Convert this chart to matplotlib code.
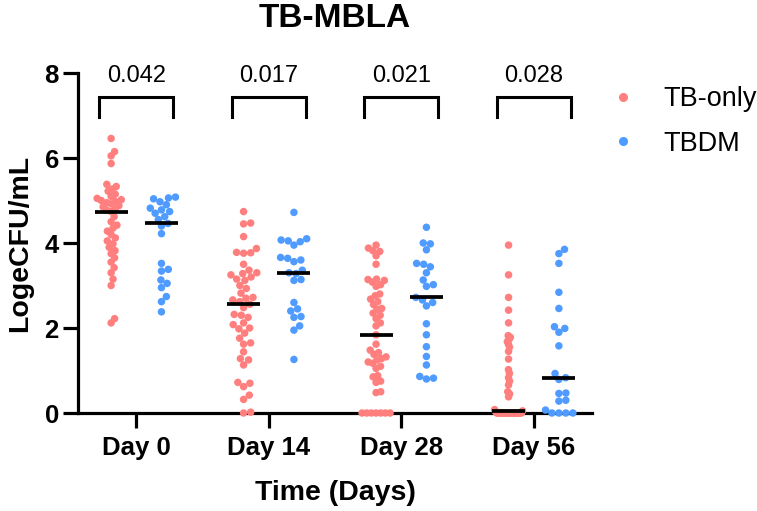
import numpy as np
import matplotlib
matplotlib.use("Agg")
import matplotlib.pyplot as plt
from matplotlib.lines import Line2D

plt.rcParams['font.family'] = ['Liberation Sans', 'DejaVu Sans']

days = ['Day 0', 'Day 14', 'Day 28', 'Day 56']
groups = ['TB-only', 'TBDM']
colors = ['#FF7F7F', '#4F9BFF']
p_values = ['0.042', '0.017', '0.021', '0.028']

# LogeCFU/mL
tb_day0 = [6.46, 6.15, 6.05, 5.87, 5.38, 5.33, 5.27, 5.22, 5.15, 5.10, 5.05, 5.02,
           5.00, 4.98, 4.95, 4.92, 4.88, 4.85, 4.80, 4.77, 4.74, 4.62, 4.50, 4.42,
           4.35, 4.28, 4.20, 4.12, 4.05, 3.98, 3.90, 3.82, 3.75, 3.65, 3.55, 3.42,
           3.30, 3.15, 3.00, 2.22, 2.12]
tb_day14 = [4.74, 4.47, 4.45, 4.15, 3.87, 3.78, 3.77, 3.76, 3.50, 3.36, 3.30, 3.28,
            3.25, 3.20, 3.15, 3.12, 3.00, 2.93, 2.82, 2.72, 2.70, 2.66, 2.62, 2.56,
            2.48, 2.32, 2.30, 2.25, 2.12, 2.08, 2.00, 1.98, 1.88, 1.76, 1.65, 1.62,
            1.44, 1.28, 1.25, 1.13, 0.72, 0.70, 0.62, 0.42, 0.32, 0.02, 0.00]
tb_day28 = [3.95, 3.88, 3.82, 3.80, 3.70, 3.50, 3.15, 3.14, 3.12, 3.08, 3.02, 2.98,
            2.80, 2.76, 2.68, 2.62, 2.55, 2.46, 2.44, 2.35, 2.30, 2.22, 2.12, 2.05,
            1.84, 1.62, 1.48, 1.42, 1.38, 1.32, 1.28, 1.25, 1.20, 1.17, 1.10, 1.05,
            0.88, 0.85, 0.75, 0.72, 0.50, 0.48, 0, 0, 0, 0, 0, 0, 0]
tb_day56 = [3.95, 3.25, 2.72, 2.42, 2.12, 1.82, 1.78, 1.74, 1.68, 1.62, 1.55, 1.45,
            1.27, 1.02, 0.93, 0.83, 0.75, 0.66, 0.50, 0.45, 0.38, 0.08, 0.05, 0.03,
            0, 0, 0, 0, 0, 0, 0, 0, 0, 0, 0, 0, 0, 0, 0, 0, 0, 0, 0, 0, 0, 0]

dm_day0 = [5.08, 5.06, 5.04, 4.97, 4.90, 4.82, 4.78, 4.74, 4.70, 4.62, 4.55, 4.46,
           4.40, 4.22, 3.52, 3.38, 3.34, 3.13, 3.05, 2.95, 2.74, 2.62, 2.38]
dm_day14 = [4.72, 4.10, 4.07, 4.05, 4.03, 3.95, 3.66, 3.64, 3.60, 3.56, 3.36, 3.30,
            3.28, 3.14, 3.12, 2.60, 2.45, 2.40, 2.27, 2.25, 2.05, 1.95, 1.26]
dm_day28 = [4.37, 4.00, 3.98, 3.84, 3.52, 3.50, 3.44, 3.30, 3.13, 3.02, 2.98, 2.72,
            2.66, 2.60, 2.52, 2.10, 1.84, 1.56, 1.33, 1.13, 0.86, 0.82, 0.80]
dm_day56 = [3.85, 3.75, 3.52, 2.84, 2.46, 2.03, 1.99, 1.90, 1.58, 0.93, 0.83,
            0.79, 0.47, 0.46, 0.30, 0.28, 0.07, 0, 0, 0, 0]

data = [[tb_day0, tb_day14, tb_day28, tb_day56],
        [dm_day0, dm_day14, dm_day28, dm_day56]]

fig = plt.figure(figsize=(7.57, 5.11), dpi=100)
ax = fig.add_axes([78/757, 98/511, 514/757, 340/511])
ax.set_xlim(-0.44, 3.44)
ax.set_ylim(0, 8)

dot = 7.5          # marker diameter, px
half_width = 14.0  # max swarm spread, px
px_per_x = ax.bbox.width / 3.88


def swarm(ypix, d):
    offs = np.zeros(len(ypix))
    px_list, py_list = [], []
    for i in np.argsort(ypix):
        y = ypix[i]
        cands = [0.0]
        for px, py in zip(px_list, py_list):
            dy = abs(y - py)
            if dy < d:
                dx = np.sqrt(d * d - dy * dy)
                cands += [px + dx, px - dx]
        cands.sort(key=abs)
        for c in cands:
            if all((c - px) ** 2 + (y - py) ** 2 >= d * d - 1e-6
                   for px, py in zip(px_list, py_list)):
                break
        offs[i] = c
        px_list.append(c)
        py_list.append(y)
    m = np.abs(offs).max()
    if m > half_width:
        offs = offs * half_width / m
    return offs


for g, (name, col) in enumerate(zip(groups, colors)):
    shift = -0.19 if g == 0 else 0.19
    for k, vals in enumerate(data[g]):
        vals = np.array(vals, dtype=float)
        xc = k + shift
        ypix = ax.transData.transform(np.column_stack([np.full(len(vals), xc), vals]))[:, 1]
        offs = swarm(ypix, dot * 0.95)
        ax.scatter(xc + offs / px_per_x, vals, s=(dot * 0.72) ** 2, color=col,
                   edgecolors='none', zorder=3, clip_on=False)
        med = np.median(vals)
        ax.plot([xc - 0.125, xc + 0.125], [med, med], color='black', lw=2.7,
                zorder=4, clip_on=False, solid_capstyle='butt')

# significance brackets
for k, p in enumerate(p_values):
    ax.plot([k - 0.28, k - 0.28, k + 0.28, k + 0.28], [6.97, 7.44, 7.44, 6.97],
            color='black', lw=2.2, clip_on=False, solid_joinstyle='miter')
    ax.text(k, 7.79, p, ha='center', va='baseline', fontsize=17)

for side in ['top', 'right']:
    ax.spines[side].set_visible(False)
for side in ['left', 'bottom']:
    ax.spines[side].set_linewidth(2.3)

ax.set_yticks([0, 2, 4, 6, 8])
ax.set_xticks(range(4))
ax.set_xticklabels(days)
ax.tick_params(axis='both', length=10.8, width=2.3, labelsize=18.5)
ax.tick_params(axis='x', pad=6)
ax.tick_params(axis='y', pad=3)
for lab in ax.get_xticklabels() + ax.get_yticklabels():
    lab.set_fontweight('bold')

ax.set_xlabel('Time (Days)', fontsize=20.5, fontweight='bold', labelpad=14)
ax.set_ylabel('LogeCFU/mL', fontsize=20.5, fontweight='bold', labelpad=8)
ax.text(0.5, 1.16, 'TB-MBLA', transform=ax.transAxes, ha='center', va='center',
        fontsize=24, fontweight='bold')

handles = [Line2D([], [], marker='o', ls='none', color=c, markersize=5.5) for c in colors]
fig.legend(handles, groups, loc='upper left', bbox_to_anchor=(612/757, 1 - 86/511),
           frameon=False, fontsize=19.5, labelspacing=0.7, handletextpad=1.08,
           handlelength=0.8, borderpad=0, borderaxespad=0)

fig.savefig('out.png', dpi=100)
